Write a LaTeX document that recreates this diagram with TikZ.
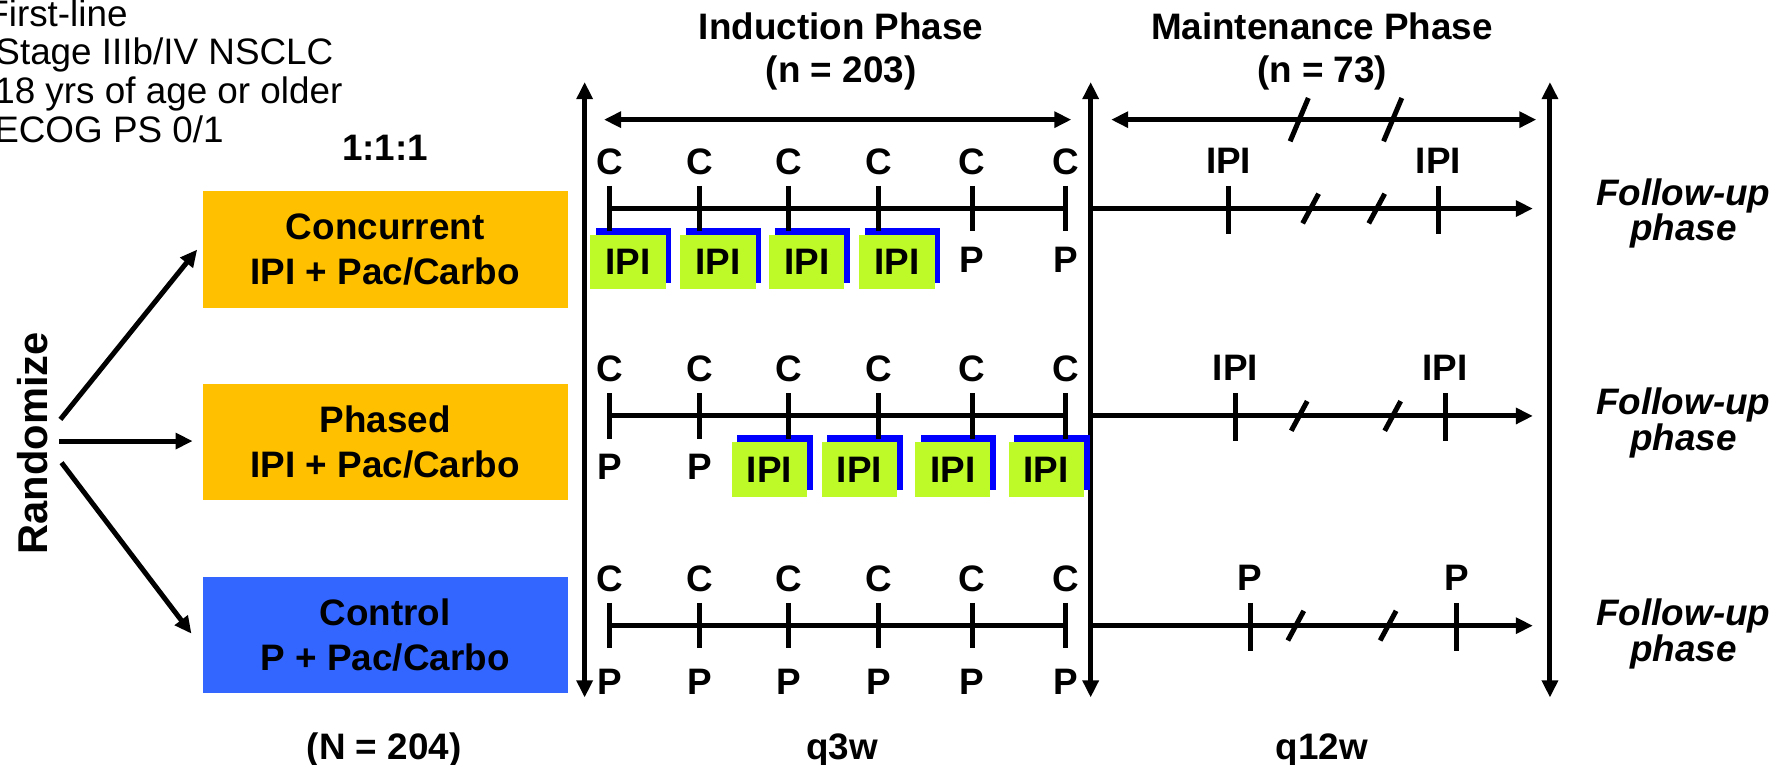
\documentclass[tikz,border=0pt]{standalone}
\usepackage{fontspec}
\setmainfont{Liberation Sans}
\usetikzlibrary{arrows.meta,shadows}
\definecolor{boxorange}{RGB}{255,192,0}
\definecolor{boxblue}{RGB}{51,102,255}
\definecolor{ipigreen}{RGB}{190,250,40}
\definecolor{ipiblue}{RGB}{0,0,255}
\newcommand{\myBold}{\fontsize{18.4}{22.7}\selectfont\bfseries}
\newcommand{\myReg}{\fontsize{18.4}{19}\selectfont\mdseries}
\tikzset{
 thk/.style={line width=2.5pt},
 tipend/.style={-{Triangle[length=8.5pt,width=7.8pt]}},
 tipboth/.style={{Triangle[length=8.5pt,width=7.8pt]}-{Triangle[length=8.5pt,width=7.8pt]}},
 armbox/.style={minimum width=6.4cm, minimum height=2.04cm, align=center, font=\myBold},
 ipibox/.style={fill=ipigreen, minimum width=1.32cm, minimum height=0.96cm,
   general shadow={fill=ipiblue, shadow xshift=0.1cm, shadow yshift=0.12cm}, font=\myBold},
 lbl/.style={font=\myBold},
 plaintext/.style={font=\myReg, anchor=base west},
 fuline/.style={font=\myBold\itshape, anchor=base},
 baselbl/.style={font=\myBold, anchor=base},
}
\begin{document}
\begin{tikzpicture}[x=0.02cm,y=-0.02cm, every node/.style={inner sep=0pt, outer sep=0pt}]
\useasboundingbox (0,0) rectangle (1568,671);
\begin{scope}
\clip (0,0) rectangle (1568,671);
% left criteria text
\node[plaintext] (t1) at (-12,23) {First-line};
\node[plaintext] (t2) at (-4,57) {Stage IIIb/IV NSCLC};
\node[plaintext] (t3) at (-5,91) {18 yrs of age or older};
\node[plaintext] (t4) at (-5,125) {ECOG PS 0/1};
\end{scope}
\node[lbl] (ratio) at (338,130) {1:1:1};

% arm boxes
\node[armbox, fill=boxorange] (conc) at (338,219) {Concurrent\\IPI + Pac/Carbo};
\node[armbox, fill=boxorange] (phas) at (338,388) {Phased\\IPI + Pac/Carbo};
\node[armbox, fill=boxblue] (ctrl) at (338,557) {Control\\P + Pac/Carbo};

% randomize
\node[font=\fontsize{20.8}{24}\selectfont\bfseries, rotate=90] (rand) at (29,389) {Randomize};
\coordinate (ra) at (53,368); \coordinate (rb) at (52,387); \coordinate (rc) at (54,406);
\coordinate (ea) at (173,219); \coordinate (eb) at (169,387); \coordinate (ec) at (168,556);
\draw[thk,tipend] (ra) -- (ea);
\draw[thk,tipend] (rb) -- (eb);
\draw[thk,tipend] (rc) -- (ec);

% phase headers
\node[lbl] (ind) at (738,23) {Induction Phase};
\node[baselbl] (indn) at (738,72) {(n = 203)};
\node[lbl] (mai) at (1160,23) {Maintenance Phase};
\node[baselbl] (main) at (1160,72) {(n = 73)};

% vertical axes
\coordinate (v1t) at (513,72); \coordinate (v1b) at (513,612);
\coordinate (v2t) at (957,72); \coordinate (v2b) at (957,612);
\coordinate (v3t) at (1360,72); \coordinate (v3b) at (1360,612);
\draw[thk,tipboth] (v1t) -- (v1b);
\draw[thk,tipboth] (v2t) -- (v2b);
\draw[thk,tipboth] (v3t) -- (v3b);

% top horizontal arrows
\coordinate (hia) at (530,105); \coordinate (hib) at (940,105);
\coordinate (hma) at (975,105); \coordinate (hmb) at (1348,105);
\draw[thk,tipboth] (hia) -- (hib);
\draw[thk,tipboth] (hma) -- (hmb);
\foreach \x in {1140,1222} \draw[thk] (\x-8,124) -- (\x+8,86);

% IPI boxes (drawn before ticks)
\foreach \x [count=\i] in {551,630,708,787} \node[ipibox] (ia\i) at (\x,230) {IPI};
\foreach \x [count=\i] in {675,754,836,918} \node[ipibox] (ib\i) at (\x,412) {IPI};

% induction timelines
\foreach \y/\r in {183/1,365/2,549/3}{
  \coordinate (s\r) at (535,\y); \coordinate (e\r) at (935,\y);
  \draw[thk] (s\r) -- (e\r);
  \foreach \x [count=\i] in {535,614,692,771,853,935}{
    \draw[thk] (\x,\y-20) -- (\x,\y+20);
    \node[lbl] (c\r\i) at (\x,\y-41) {C};
  }
}
% P labels
\node[lbl] (p15) at (853,228) {P};
\node[lbl] (p16) at (935,228) {P};
\node[lbl] (p21) at (535,410) {P};
\node[lbl] (p22) at (614,410) {P};
\foreach \x [count=\i] in {535,614,692,771,853,935} \node[lbl] (p3\i) at (\x,598) {P};

% maintenance timelines
\foreach \y/\r/\ta/\tb/\sa/\sb/\lab in {183/1/1078/1262/1150/1208/IPI, 365/2/1084/1268/1140/1222/IPI, 549/3/1097/1278/1137/1218/P}{
  \coordinate (ms\r) at (959,\y); \coordinate (me\r) at (1345,\y);
  \draw[thk,tipend] (ms\r) -- (me\r);
  \draw[thk] (\ta,\y-20) -- (\ta,\y+22);
  \draw[thk] (\tb,\y-20) -- (\tb,\y+22);
  \node[lbl] (ml\r a) at (\ta,\y-42) {\lab};
  \node[lbl] (ml\r b) at (\tb,\y-42) {\lab};
  \draw[thk] (\sa-7,\y+13) -- (\sa+7,\y-13);
  \draw[thk] (\sb-7,\y+13) -- (\sb+7,\y-13);
}

% follow-up labels
\foreach \y/\r in {180/1,364/2,549/3}{
  \node[fuline] (fa\r) at (1477,\y) {Follow-up};
  \node[fuline] (fb\r) at (1477,\y+31) {phase};
}

% bottom labels
\node[baselbl] (bn) at (337,666) {(N = 204)};
\node[baselbl] (bq3) at (739,666) {q3w};
\node[baselbl] (bq12) at (1160,666) {q12w};
\end{tikzpicture}
\end{document}
